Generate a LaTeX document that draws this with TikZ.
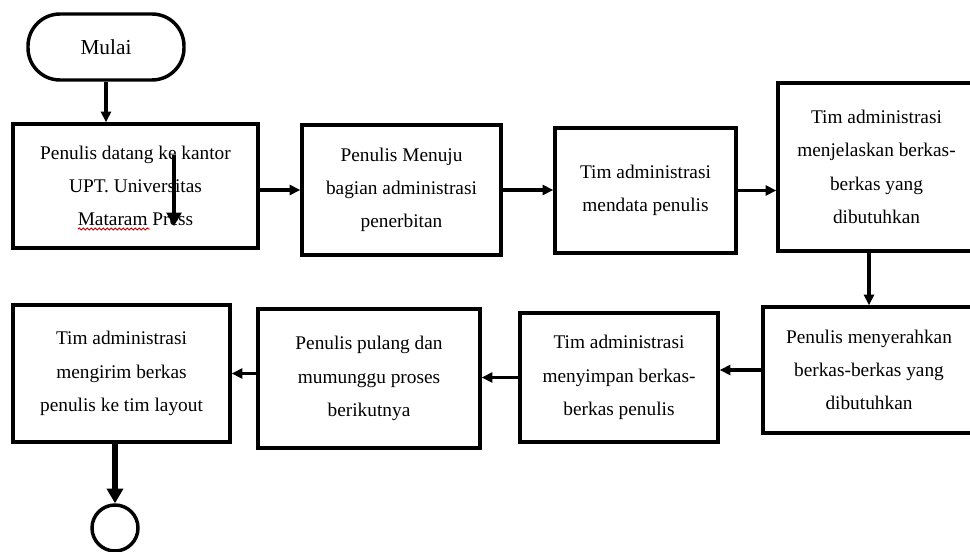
\documentclass[tikz,border=0pt]{standalone}
\usepackage{fontspec}
\setmainfont{Liberation Serif}
\usetikzlibrary{arrows.meta,decorations.pathmorphing}

\begin{document}
\begin{tikzpicture}[x=0.75pt, y=-0.75pt, >={Triangle[length=8pt,width=7.5pt]},
    flowbox/.style={draw, line width=2.6pt, align=center, text=black,
      font=\fontsize{14.5}{25}\selectfont},
    flowline/.style={->, line width=2.5pt}]
    \useasboundingbox (0,0) rectangle (970,552);

    \node[flowbox, rounded corners=24pt, minimum width=117pt, minimum height=49.5pt,
      font=\fontsize{16}{20}\selectfont] (mulai) at (106,47) {Mulai};

    \node[flowbox, minimum width=183.75pt, minimum height=93pt] (datang) at (135.5,186)
      {Penulis datang ke kantor\\UPT. Universitas\\Mataram Press};
    \node[flowbox, minimum width=149.25pt, minimum height=97.5pt] (menuju) at (401.5,190)
      {Penulis Menuju\\bagian administrasi\\penerbitan};
    \node[flowbox, minimum width=135.75pt, minimum height=93.75pt] (mendata) at (645.5,190.5)
      {Tim administrasi\\mendata penulis};
    \node[flowbox, minimum width=147.75pt, minimum height=126pt] (jelaskan) at (876.5,167)
      {Tim administrasi\\menjelaskan berkas-\\berkas yang\\dibutuhkan};

    \node[flowbox, minimum width=159pt, minimum height=94.5pt] (serahkan) at (869,370)
      {Penulis menyerahkan\\berkas-berkas yang\\dibutuhkan};
    \node[flowbox, minimum width=148.5pt, minimum height=96.75pt] (simpan) at (619,377.5)
      {Tim administrasi\\menyimpan berkas-\\berkas penulis};
    \node[flowbox, minimum width=166.5pt, minimum height=104.25pt] (pulang) at (369,378.5)
      {Penulis pulang dan\\mumunggu proses\\berikutnya};
    \node[flowbox, minimum width=162.75pt, minimum height=102.75pt] (kirim) at (121.5,373.5)
      {Tim administrasi\\mengirim berkas\\penulis ke tim layout};

    \node[draw, circle, line width=2.6pt, minimum size=34.5pt] (selesai) at (115,528) {};

    % spell-check mark and stray arrow
    \draw[red!80!black, line width=0.7pt, decorate, decoration={snake, amplitude=0.8pt, segment length=3pt}] (78,229) -- (150,229);
    \coordinate (stray1) at (174,155);
    \coordinate (stray2) at (174,226);
    \draw[->, line width=3pt, >={Triangle[length=10pt,width=11pt]}] (stray1) -- (stray2);

    \draw[flowline] (mulai.south) -- (mulai.south |- datang.north);
    \draw[flowline] (menuju.west -| datang.east) -- (menuju.west);
    \draw[flowline] (menuju.east) -- (menuju.east -| mendata.west);
    \draw[flowline] (mendata.east) -- (mendata.east -| jelaskan.west);
    \draw[flowline] (serahkan.north |- jelaskan.south) -- (serahkan.north);
    \draw[flowline] (serahkan.west) -- (serahkan.west -| simpan.east);
    \draw[flowline] (simpan.west) -- (simpan.west -| pulang.east);
    \draw[flowline] (kirim.east -| pulang.west) -- (kirim.east);
    \draw[->, line width=3.8pt, >={Triangle[length=11pt,width=12pt]}] (selesai.north |- kirim.south) -- (selesai.north);
  \end{tikzpicture}
\end{document}
